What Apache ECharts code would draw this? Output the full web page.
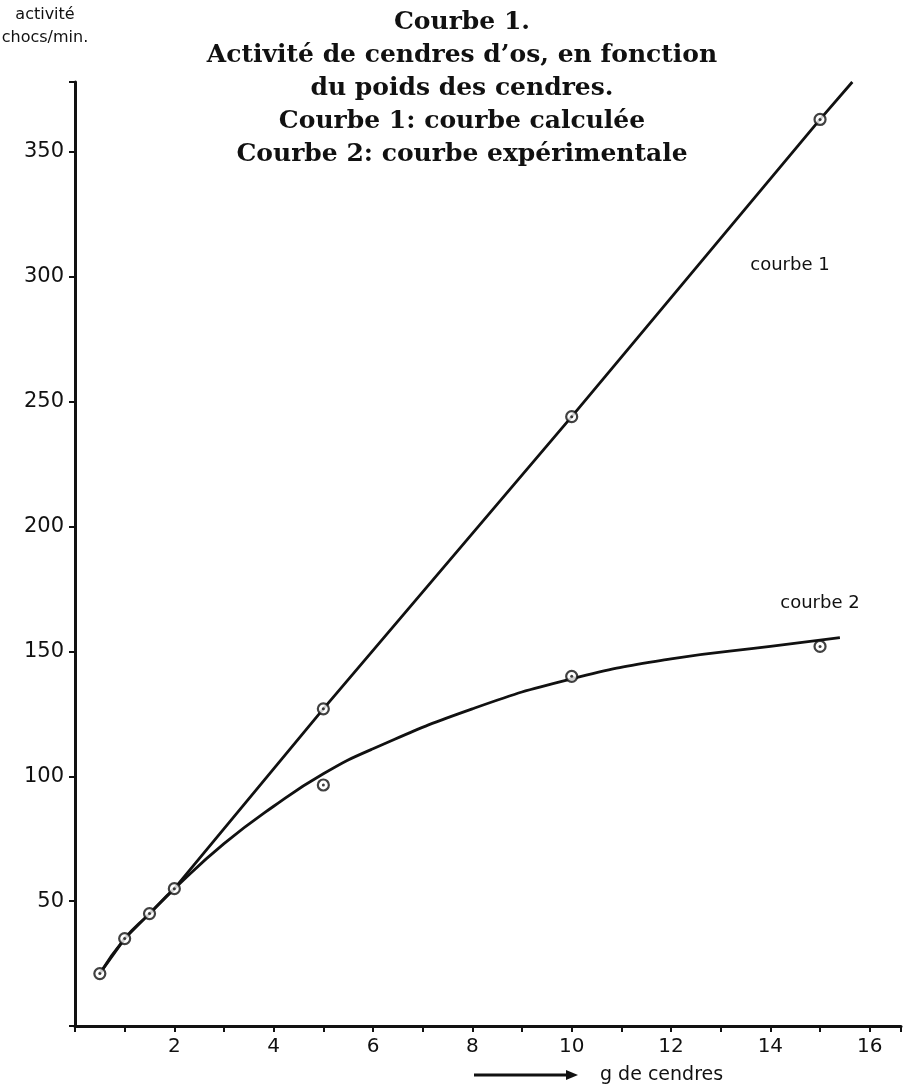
<!DOCTYPE html>
<html>
<head>
<meta charset="utf-8">
<script src="https://cdn.jsdelivr.net/npm/echarts@6/dist/echarts.min.js"></script>
<style>
  html, body { margin: 0; padding: 0; background: #fff; }
  #chart { width: 904px; height: 1086px; }
</style>
</head>
<body>
<div id="chart"></div>
<script>
// Courbe 1 — activité de cendres d'os en fonction du poids des cendres

// x ticks / labels
const xTickLabels = [2, 4, 6, 8, 10, 12, 14, 16];
const yTickLabels = [50, 100, 150, 200, 250, 300, 350];

// measured points (shared low points + calculated curve)
const gramsCalc = [0.5, 1, 1.5, 2, 5, 10, 15];
const activityCalc = [21, 35, 45, 55, 127, 244, 363];

// straight line of courbe 1, running past the last point
const lineCalcX = [0.5, 1, 1.5, 2, 5, 10, 15, 15.65];
const lineCalcY = [21, 35, 45, 55, 127, 244, 363, 378];

// experimental points (courbe 2)
const gramsExp = [5, 10, 15];
const activityExp = [96.5, 140, 152];

// drawn smooth curve 2
const curveExpX = [0.5, 1, 1.5, 2, 3, 4, 5, 6, 8, 10, 12, 14, 15.4];
const curveExpY = [21, 35, 45, 55, 73, 88, 101, 111, 127, 139, 147, 152, 155.5];

const SANS = '"DejaVu Sans", sans-serif';
const SERIF = '"DejaVu Serif", "Liberation Serif", serif';
const INK = '#111';

const zip = (xs, ys) => xs.map((x, i) => [x, ys[i]]);

// open circle with a dot inside
function ringSeries(xs, ys) {
  return [
    {
      type: 'scatter', data: zip(xs, ys), symbol: 'circle', symbolSize: 11,
      itemStyle: { color: '#fff', borderColor: INK, borderWidth: 2.2 }, z: 5,
    },
    {
      type: 'scatter', data: zip(xs, ys), symbol: 'circle', symbolSize: 3,
      itemStyle: { color: INK }, z: 6,
    },
  ];
}

const chart = echarts.init(document.getElementById('chart'), null, { renderer: 'canvas' });

chart.setOption({
  backgroundColor: '#fff',
  animation: false,
  grid: { left: 75, right: 0, top: 82, bottom: 60 },
  xAxis: {
    type: 'value', min: 0, max: 16.63, interval: 1,
    axisLine: { lineStyle: { color: INK, width: 3 } },
    axisTick: { length: 6, lineStyle: { color: INK, width: 2 } },
    splitLine: { show: false },
    axisLabel: {
      color: INK, fontFamily: SANS, fontSize: 20, margin: 11,
      formatter: v => xTickLabels.includes(v) ? String(v) : '',
    },
  },
  yAxis: {
    type: 'value', min: 0, max: 378, interval: 50,
    axisLine: { show: true, lineStyle: { color: INK, width: 3 } },
    axisTick: { show: true, length: 6, lineStyle: { color: INK, width: 2 } },
    splitLine: { show: false },
    axisLabel: {
      color: INK, fontFamily: SANS, fontSize: 21, margin: 11,
      formatter: v => yTickLabels.includes(v) ? String(v) : '',
    },
  },
  series: [
    {
      type: 'line', data: zip(lineCalcX, lineCalcY), symbol: 'none',
      lineStyle: { color: INK, width: 2.8 }, z: 3,
    },
    {
      type: 'line', data: zip(curveExpX, curveExpY), symbol: 'none', smooth: 0.5,
      lineStyle: { color: INK, width: 2.8 }, z: 3,
    },
    ...ringSeries(gramsCalc, activityCalc),
    ...ringSeries(gramsExp, activityExp),
  ],
  graphic: [
    {
      type: 'text', x: 462, y: 6,
      style: {
        text: 'Courbe 1.\nActivité de cendres d’os, en fonction\ndu poids des cendres.\nCourbe 1: courbe calculée\nCourbe 2: courbe expérimentale',
        font: 'bold 25px ' + SERIF, fill: INK, lineHeight: 33, align: 'center',
      },
    },
    {
      type: 'text', x: 45, y: 26,
      style: {
        text: 'activité\nchocs/min.', font: '16px ' + SANS,
        fill: INK, align: 'center', verticalAlign: 'middle', lineHeight: 23,
      },
    },
    {
      type: 'text', x: 790, y: 265,
      style: { text: 'courbe 1', font: '18px ' + SANS, fill: INK, align: 'center', verticalAlign: 'middle' },
    },
    {
      type: 'text', x: 820, y: 603,
      style: { text: 'courbe 2', font: '18px ' + SANS, fill: INK, align: 'center', verticalAlign: 'middle' },
    },
    // arrow in front of the x axis name
    {
      type: 'line', shape: { x1: 474, y1: 1075, x2: 568, y2: 1075 },
      style: { stroke: INK, lineWidth: 3 },
    },
    {
      type: 'polygon', shape: { points: [[566, 1070], [578, 1075], [566, 1080]] },
      style: { fill: INK },
    },
    {
      type: 'text', x: 600, y: 1075,
      style: { text: 'g de cendres', font: '19px ' + SANS, fill: INK, verticalAlign: 'middle' },
    },
  ],
});
</script>
</body>
</html>
